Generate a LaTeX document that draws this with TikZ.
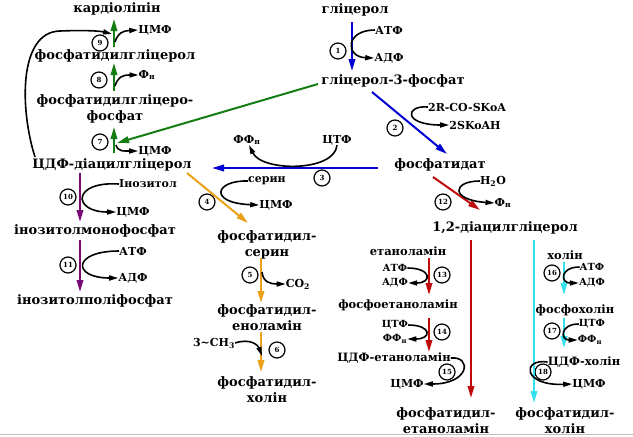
\documentclass[tikz,border=0pt]{standalone}
\usepackage{fontspec}
\setmainfont{DejaVu Serif}
\usetikzlibrary{arrows.meta}
\definecolor{cgreen}{RGB}{20,125,20}
\definecolor{cblue}{RGB}{0,0,210}
\definecolor{corange}{RGB}{235,160,25}
\definecolor{cred}{RGB}{190,10,10}
\definecolor{cpurple}{RGB}{120,10,120}
\definecolor{ccyan}{RGB}{50,225,235}
\tikzset{
 lab/.style={inner sep=0pt, align=center, font=\bfseries\fontsize{13}{16}\selectfont},
 mid/.style={inner sep=0pt, font=\bfseries\fontsize{11.5}{13}\selectfont},
 co/.style={inner sep=0pt, font=\bfseries\fontsize{11}{12}\selectfont},
 cos/.style={inner sep=0pt, font=\bfseries\fontsize{9.8}{11}\selectfont},
 num/.style={circle, draw=black, line width=1.2pt, minimum size=16pt, inner sep=0pt, font=\bfseries\fontsize{7}{8}\selectfont},
 mainarr/.style={line width=2pt, -{Triangle[length=12pt,width=6.5pt]}},
 sidearr/.style={line width=1.6pt, -{Triangle[length=9pt,width=5pt]}},
}
\begin{document}
\begin{tikzpicture}[x=1pt,y=-1pt]
\useasboundingbox (0,0) rectangle (633,437);
\draw[black!25, line width=1pt] (0,434) -- (633,434);
% main labels
\node[lab] (cardio) at (117,9) {кардіоліпін};
\node[lab] (pg) at (115,56) {фосфатидилгліцерол};
\node[lab] (pgp) at (115,109) {фосфатидилгліцеро-\\фосфат};
\node[lab] (cdpdag) at (112,165) {ЦДФ-діацилгліцерол};
\node[lab] (imp) at (95,231) {інозитолмонофосфат};
\node[lab] (ipp) at (95,301) {інозитолполіфосфат};
\node[lab] (glyc) at (355,10) {гліцерол};
\node[lab] (g3p) at (393,81) {гліцерол-3-фосфат};
\node[lab] (pa) at (440,165) {фосфатидат};
\node[lab] (ps) at (267,245) {фосфатидил-\\серин};
\node[lab] (pe1) at (267,317.5) {фосфатидил-\\еноламін};
\node[lab] (pc1) at (267,389.5) {фосфатидил-\\холін};
\node[lab] (dag) at (505,228) {1,2-діацилгліцерол};
\node[lab] (pe2) at (446,420.5) {фосфатидил-\\етаноламін};
\node[lab] (pc2) at (565,420.5) {фосфатидил-\\холін};
% intermediates
\node[mid] (etn) at (408,251) {етаноламін};
\node[mid] (pet) at (398,305) {фосфоетаноламін};
\node[mid] (cdpe) at (394,358) {ЦДФ-етаноламін};
\node[mid] (chol) at (565,255) {холін};
\node[mid] (pch) at (575,310) {фосфохолін};
\node[mid] (cdpc) at (584,362) {ЦДФ-холін};
% cofactors
\node[co] (cmp9) at (155,30) {ЦМФ};
\node[co] (pi8) at (147,75) {Ф\textsubscript{н}};
\node[co] (cmp7) at (155,151) {ЦМФ};
\node[co] (ino) at (148,184) {Інозитол};
\node[co] (cmp10) at (133,212) {ЦМФ};
\node[co] (atp11) at (133,251) {АТФ};
\node[co] (adp11) at (133,278) {АДФ};
\node[co] (atp1) at (389,30) {АТФ};
\node[co] (adp1) at (389,58) {АДФ};
\node[co] (acyl) at (467,107) {2R-CO-SKoA};
\node[co] (skoah) at (475,125) {2SKoAH};
\node[co] (ctp3) at (337,140) {ЦТФ};
\node[co] (ppi3) at (247,140) {ФФ\textsubscript{н}};
\node[co] (ser) at (267,181) {серин};
\node[co] (cmp4) at (276,205) {ЦМФ};
\node[co] (co2) at (298,284) {CO\textsubscript{2}};
\node[co] (ch3) at (214,343) {3\textasciitilde CH\textsubscript{3}};
\node[co] (h2o) at (493,181) {H\textsubscript{2}O};
\node[co] (pi12) at (503,203) {Ф\textsubscript{н}};
\node[cos] (atp13) at (395,268) {АТФ};
\node[cos] (adp13) at (395,283) {АДФ};
\node[cos] (ctp14) at (395,325) {ЦТФ};
\node[cos] (ppi14) at (395,339) {ФФ\textsubscript{н}};
\node[co] (cmp15) at (407,384) {ЦМФ};
\node[cos] (atp16) at (592,267) {АТФ};
\node[cos] (adp16) at (592,283) {АДФ};
\node[cos] (ctp17) at (592,324) {ЦТФ};
\node[cos] (ppi17) at (590,340) {ФФ\textsubscript{н}};
\node[co] (cmp18) at (589,384) {ЦМФ};
% enzyme numbers
\node[num] (n1) at (338,51) {1};
\node[num] (n2) at (395,128) {2};
\node[num] (n3) at (322,178) {3};
\node[num] (n4) at (207,202) {4};
\node[num] (n5) at (250,275) {5};
\node[num] (n6) at (277,350) {6};
\node[num] (n7) at (100,142) {7};
\node[num] (n8) at (99,80) {8};
\node[num] (n9) at (100,43) {9};
\node[num] (n10) at (68,197) {10};
\node[num] (n11) at (68,265) {11};
\node[num] (n12) at (443,202) {12};
\node[num] (n13) at (442,275) {13};
\node[num] (n14) at (442,332) {14};
\node[num] (n15) at (447,372) {15};
\node[num] (n16) at (552,273) {16};
\node[num] (n17) at (552,331) {17};
\node[num] (n18) at (543,372) {18};
% arrow end points
\coordinate (g9a) at (114,47); \coordinate (g9b) at (114,19);
\coordinate (g8a) at (114,91); \coordinate (g8b) at (114,63);
\coordinate (g7a) at (114,153); \coordinate (g7b) at (114,127);
\coordinate (gla) at (318,84); \coordinate (glb) at (117,143);
\coordinate (b1a) at (352,22); \coordinate (b1b) at (352,71);
\coordinate (b2a) at (372,92); \coordinate (b2b) at (447,154);
\coordinate (b3a) at (378,168); \coordinate (b3b) at (212,168);
\coordinate (o4a) at (187,173); \coordinate (o4b) at (248,223);
\coordinate (o5a) at (261,258); \coordinate (o5b) at (261,303);
\coordinate (o6a) at (261,332); \coordinate (o6b) at (261,372);
\coordinate (p10a) at (80,173); \coordinate (p10b) at (80,222);
\coordinate (p11a) at (80,240); \coordinate (p11b) at (80,292);
\coordinate (r12a) at (433,177); \coordinate (r12b) at (480,210);
\coordinate (rla) at (471,240); \coordinate (rlb) at (471,398);
\coordinate (r13a) at (429,258); \coordinate (r13b) at (429,295);
\coordinate (r14a) at (429,318); \coordinate (r14b) at (429,352);
\coordinate (cla) at (534,240); \coordinate (clb) at (534,403);
\coordinate (c16a) at (564,262); \coordinate (c16b) at (564,295);
\coordinate (c17a) at (564,318); \coordinate (c17b) at (564,348);
% main arrows
\draw[mainarr, cgreen] (g9a) -- (g9b);
\draw[mainarr, cgreen] (g8a) -- (g8b);
\draw[mainarr, cgreen] (g7a) -- (g7b);
\draw[mainarr, cgreen] (gla) -- (glb);
\draw[mainarr, cblue] (b1a) -- (b1b);
\draw[mainarr, cblue] (b2a) -- (b2b);
\draw[mainarr, cblue] (b3a) -- (b3b);
\draw[mainarr, corange] (o4a) -- (o4b);
\draw[mainarr, corange] (o5a) -- (o5b);
\draw[mainarr, corange] (o6a) -- (o6b);
\draw[mainarr, cpurple] (p10a) -- (p10b);
\draw[mainarr, cpurple] (p11a) -- (p11b);
\draw[mainarr, cred] (r12a) -- (r12b);
\draw[mainarr, cred] (rla) -- (rlb);
\draw[mainarr, cred] (r13a) -- (r13b);
\draw[mainarr, cred] (r14a) -- (r14b);
\draw[mainarr, ccyan] (cla) -- (clb);
\draw[mainarr, ccyan] (c16a) -- (c16b);
\draw[mainarr, ccyan] (c17a) -- (c17b);
% side arrows
\coordinate (s9) at (115,42); \coordinate (s8) at (115,86); \coordinate (s7) at (116,145);
\coordinate (loopend) at (112,34); \coordinate (loopstart) at (35,157);
\coordinate (s5) at (262,272); \coordinate (s6) at (262,356);
\draw[sidearr] (s9) .. controls (118,33) and (122,31) .. (cmp9.west);
\draw[sidearr] (s8) .. controls (118,77) and (122,75) .. (pi8.west);
\draw[sidearr] (s7) .. controls (118,152) and (124,151) .. (cmp7.west);
\draw[sidearr] (loopstart) .. controls (20,110) and (18,32) .. (60,31) .. controls (85,30) and (100,31) .. (loopend);
\draw[sidearr] (atp1.west) .. controls (345,30) and (345,57) .. (adp1.west);
\draw[sidearr] (acyl.west) .. controls (405,105) and (403,125) .. (skoah.west);
\draw[sidearr] (ctp3.south) .. controls (335,172) and (262,172) .. ([xshift=2pt]ppi3.south);
\draw[sidearr] (ser.west) .. controls (215,180) and (208,203) .. (cmp4.west);
\draw[sidearr] (s5) .. controls (263,282) and (270,284) .. (co2.west);
\draw[sidearr] (ch3.east) .. controls (250,338) and (258,345) .. (s6);
\draw[sidearr] (ino.west) .. controls (72,181) and (72,212) .. (cmp10.west);
\draw[sidearr] (atp11.west) .. controls (72,251) and (72,278) .. (adp11.west);
\draw[sidearr] (h2o.west) .. controls (452,181) and (450,200) .. (pi12.west);
\draw[sidearr] (atp13.east) .. controls (432,268) and (432,283) .. (adp13.east);
\draw[sidearr] (ctp14.east) .. controls (432,325) and (432,339) .. (ppi14.east);
\draw[sidearr] (cdpe.east) .. controls (472,356) and (470,384) .. (cmp15.east);
\draw[sidearr] (atp16.west) .. controls (560,267) and (560,283) .. (adp16.west);
\draw[sidearr] (ctp17.west) .. controls (560,324) and (560,340) .. (ppi17.west);
\draw[sidearr] (cdpc.west) .. controls (522,358) and (522,386) .. (cmp18.west);
\end{tikzpicture}
\end{document}
